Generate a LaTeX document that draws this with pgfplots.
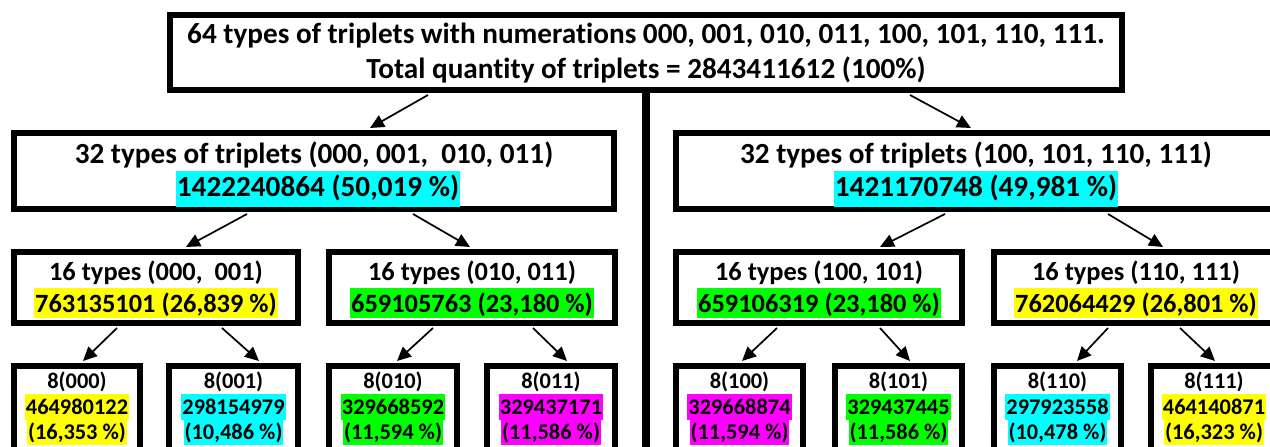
\documentclass[border=0pt]{standalone}
\usepackage{fontspec}
\setmainfont{Carlito}[Ligatures=NoCommon]
\usepackage{pgfplots}
\pgfplotsset{compat=1.18}
\usetikzlibrary{arrows.meta}
\definecolor{hcyan}{RGB}{0,255,255}
\definecolor{hyel}{RGB}{255,255,0}
\definecolor{hgrn}{RGB}{0,255,0}
\definecolor{hmag}{RGB}{255,0,255}
% box: x1 x2 ytop ybottom (path centre lines, y up)
\newcommand{\bx}[4]{\addplot[line width=5.5pt,line join=miter,black] coordinates {(#1,#3) (#2,#3) (#2,#4) (#1,#4) (#1,#3) (#2,#3)};}
\newcommand{\ar}[4]{\addplot[line width=1.7pt,black,-{Triangle[length=14pt,width=13pt]}] coordinates {(#1,#2) (#3,#4)};}
\tikzset{
  tA/.style={anchor=base,inner sep=0pt,font=\bfseries\fontsize{29.2}{35}\selectfont},
  tB/.style={anchor=base,inner sep=0pt,font=\bfseries\fontsize{26.4}{31}\selectfont},
  tC/.style={anchor=base,inner sep=0pt,font=\bfseries\fontsize{22.4}{26}\selectfont},
  hA/.style={tA,inner xsep=1pt,text height=26pt,text depth=10pt},
  hB/.style={tB,inner xsep=1pt,text height=25pt,text depth=5pt},
  hC/.style={tC,inner xsep=1pt,text height=21pt,text depth=5pt},
}
\begin{document}
\begin{tikzpicture}
\begin{axis}[
  width=1270pt,height=447pt,scale only axis,
  xmin=0,xmax=1270,ymin=0,ymax=447,
  hide axis,clip=true]
% boxes
\bx{170}{1122}{432}{357}
\bx{14}{614}{314}{238}
\bx{676}{1276}{314}{238}
\bx{14}{298}{195}{124}
\bx{329}{615}{195}{124}
\bx{676}{962}{195}{124}
\bx{994}{1278}{195}{124}
\bx{14}{140}{81}{-20}
\bx{169}{298}{81}{-20}
\bx{329}{457}{81}{-20}
\bx{487}{615}{81}{-20}
\bx{676}{803}{81}{-20}
\bx{835}{962}{81}{-20}
\bx{994}{1121}{81}{-20}
\bx{1151}{1277}{81}{-20}
% central vertical line
\addplot[line width=8pt,black] coordinates {(646,354) (646,-10)};
% arrows
\ar{428}{352}{370}{319}
\ar{910}{352}{971}{319}
\ar{247}{233}{186}{200}
\ar{413}{233}{470}{200}
\ar{945}{233}{880}{200}
\ar{1108}{233}{1163}{200}
\ar{117}{119}{83}{86}
\ar{222}{119}{259}{86}
\ar{433}{119}{397}{86}
\ar{533}{119}{567}{86}
\ar{777}{119}{742}{86}
\ar{880}{119}{910}{86}
\ar{1108}{119}{1077}{86}
\ar{1180}{119}{1215}{86}
% texts top
\node[tA] at (axis cs:646,403) {64 types of triplets with numerations 000, 001, 010, 011, 100, 101, 110, 111.};
\node[tA] at (axis cs:646,368) {Total quantity of triplets = 2843411612 (100\%)};
% level 2
\node[tA] at (axis cs:314,283) {32 types of triplets (000, 001,~ 010, 011)};
\node[hA,fill=hcyan] at (axis cs:318,250) {1422240864 (50,019 \%)};
\node[tA] at (axis cs:976,283) {32 types of triplets (100, 101, 110, 111)};
\node[hA,fill=hcyan] at (axis cs:976,250) {1421170748 (49,981 \%)};
% level 3
\node[tB] at (axis cs:156,166) {16 types (000,~ 001)};
\node[hB,fill=hyel] at (axis cs:156,134) {763135101 (26,839 \%)};
\node[tB] at (axis cs:472,166) {16 types (010, 011)};
\node[hB,fill=hgrn] at (axis cs:472,134) {659105763 (23,180 \%)};
\node[tB] at (axis cs:819,166) {16 types (100, 101)};
\node[hB,fill=hgrn] at (axis cs:819,134) {659106319 (23,180 \%)};
\node[tB] at (axis cs:1136,166) {16 types (110, 111)};
\node[hB,fill=hyel] at (axis cs:1136,134) {762064429 (26,801 \%)};
% level 4
\node[tC] at (axis cs:77,58) {8(000)};
\node[hC,fill=hyel] at (axis cs:77,32) {464980122};
\node[hC,fill=hyel] at (axis cs:77,7) {(16,353 \%)};
\node[tC] at (axis cs:233.5,58) {8(001)};
\node[hC,fill=hcyan] at (axis cs:233.5,32) {298154979};
\node[hC,fill=hcyan] at (axis cs:233.5,7) {(10,486 \%)};
\node[tC] at (axis cs:393,58) {8(010)};
\node[hC,fill=hgrn] at (axis cs:393,32) {329668592};
\node[hC,fill=hgrn] at (axis cs:393,7) {(11,594 \%)};
\node[tC] at (axis cs:551,58) {8(011)};
\node[hC,fill=hmag] at (axis cs:551,32) {329437171};
\node[hC,fill=hmag] at (axis cs:551,7) {(11,586 \%)};
\node[tC] at (axis cs:739.5,58) {8(100)};
\node[hC,fill=hmag] at (axis cs:739.5,32) {329668874};
\node[hC,fill=hmag] at (axis cs:739.5,7) {(11,594 \%)};
\node[tC] at (axis cs:898.5,58) {8(101)};
\node[hC,fill=hgrn] at (axis cs:898.5,32) {329437445};
\node[hC,fill=hgrn] at (axis cs:898.5,7) {(11,586 \%)};
\node[tC] at (axis cs:1057.5,58) {8(110)};
\node[hC,fill=hcyan] at (axis cs:1057.5,32) {297923558};
\node[hC,fill=hcyan] at (axis cs:1057.5,7) {(10,478 \%)};
\node[tC] at (axis cs:1214,58) {8(111)};
\node[hC,fill=hyel] at (axis cs:1214,32) {464140871};
\node[hC,fill=hyel] at (axis cs:1214,7) {(16,323 \%)};
\end{axis}
\pgfresetboundingbox
\path (0,0) rectangle (1270pt,447pt);
\end{tikzpicture}
\end{document}
